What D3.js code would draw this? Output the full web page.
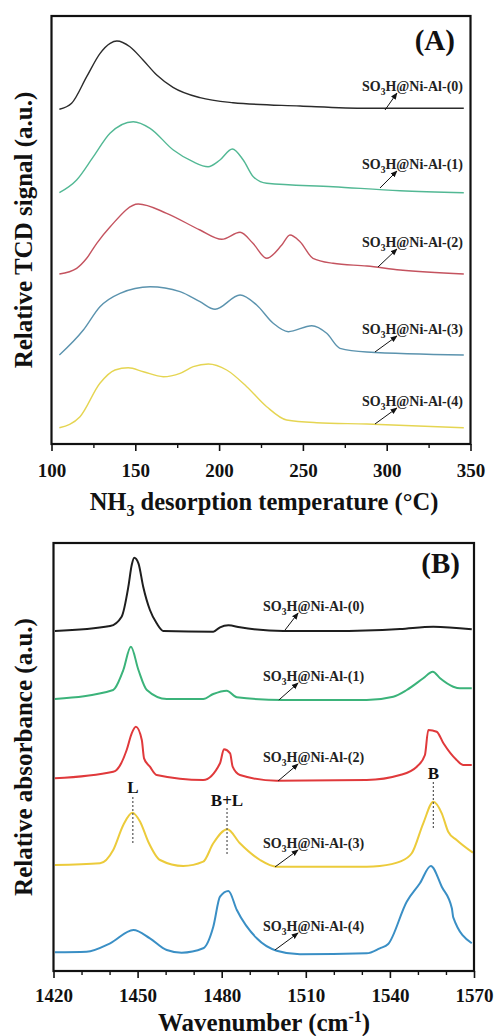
<!DOCTYPE html>
<html><head><meta charset="utf-8">
<script src="https://cdn.jsdelivr.net/npm/d3@7"></script>
<style>body{margin:0;background:#fff}</style>
</head><body><svg id="c" width="495" height="1036"></svg>
<script>
// ---------- data ----------
const sampleNames = ["SO3H@Ni-Al-(0)","SO3H@Ni-Al-(1)","SO3H@Ni-Al-(2)","SO3H@Ni-Al-(3)","SO3H@Ni-Al-(4)"];
const tempTicks = [100,150,200,250,300,350];
const tempMinor = [125,175,225,275,325];
const waveTicks = [1420,1450,1480,1510,1540,1570];
const waveMinor = [1430,1440,1460,1470,1490,1500,1520,1530,1550,1560];

// (A) NH3-TPD, temperature (°C) vs stacked relative signal (a.u.)
const tcdT0 = [104.7,112,121,129,135,139,146.8,154.6,162.8,172.5,188.6,208.3,248.3,288,346];
const tcdS0 = [334.7,340.7,367.3,390.7,400.7,403,397.3,384,369,356.7,346.3,341.3,338,335.7,335.7];
const tcdT1 = [104.7,115,125,134.9,148.8,158.8,172.7,184.4,193.4,200.5,207.9,214.4,220.4,228.4,268,308,346];
const tcdS1 = [251.3,264,287.3,310.7,322.3,315.7,294,282.3,277.3,284,295,284,267.3,260.7,257.3,253.3,251.3];
const tcdT2 = [104.7,115,121,127,134.9,151.8,168.7,188.6,201.6,212.5,220.2,228.4,237.4,242.3,248.3,256,268,288.2,308,346];
const tcdS2 = [170,175.7,185.7,200.7,217,240,230.7,214,204.7,211.7,200.7,185.7,199,209,202.3,185.7,180.7,178,174,170];
const tcdT3 = [104.7,119,128.9,140.9,158.8,176.7,188.6,197.6,212.5,222.4,232.3,241.3,255.3,264.2,272.1,288.1,346];
const tcdS3 = [89,114,137.3,150.7,157.3,152.3,142.3,134.7,149,139,120.7,112.3,118.3,110.7,95.7,92,89];
const tcdT4 = [104.7,117,128.9,137.9,145.8,154.8,166.7,176.7,184.6,193.6,204.5,216.5,228.4,240.3,258.2,288.1,346];
const tcdS4 = [16.3,27.3,60.7,74,76.3,72.3,67.3,70.7,77.3,80,74,57.3,37.3,24,21.3,20,16.3];

// (B) Py-IR, wavenumber (cm-1) vs stacked relative absorbance (a.u.)
const irW0 = [1420.5,1440.2,1444.3,1446.7,1447.9,1448.8,1450.3,1452,1454.4,1456.8,1459.2,1477,1479.4,1482.4,1486.5,1502,1519.7,1543.6,1555.5,1569.2];
const irA0 = [340,345,354.3,384.3,406,413.3,407.7,384.3,361,347.7,340,339.3,343.7,345.7,343.7,340,340,342,344.3,341.7];
const irW1 = [1420.5,1441.3,1441.9,1444.9,1447.6,1450.3,1453.3,1460.4,1473.4,1477,1481.8,1485.4,1502,1531.7,1541.2,1546,1551.9,1555.3,1557.9,1562.6,1565,1569.2];
const irA1 = [272,281,282.7,301,324.3,301,281,272,272,277,280.3,273.7,271,271,274.3,281,292.7,299.3,292.7,284.3,282.7,282.7];
const irW2 = [1420.5,1441.3,1442.5,1446.1,1447.9,1449.4,1451.5,1452.3,1454.4,1456.8,1473.4,1479.4,1480.8,1483,1483.9,1486.5,1499.6,1531.7,1543.6,1549.6,1552.5,1553.7,1556.7,1559.1,1563.8,1566.2,1569.2];
const irA2 = [192.7,199.3,201,221,237.7,244.3,231,212.7,204.3,196,191,207.7,221.7,217.7,204.3,196,190.3,191,196,204.3,216,241,239.3,227.7,211,206,206];
const irW3 = [1420.5,1436.6,1441.3,1444.9,1448.1,1450.9,1453.8,1458,1466.3,1473.4,1477,1482,1486.5,1493.7,1499.6,1531.7,1536.4,1543.6,1547.8,1551.9,1555.5,1558.5,1560.8,1563.8,1569.6];
const irA3 = [106,107.7,121,146,158.3,149.3,129.3,111,105,109.3,127.7,141.7,127.7,111,104.3,104.3,105,109.3,117.7,147.7,169.3,157.7,139.3,131,118.3];
const irW4 = [1420.5,1431.8,1440.2,1448.5,1454.4,1460.4,1465.7,1473.4,1477,1479.4,1482.4,1485.4,1492.5,1499.6,1507.9,1531.7,1536.4,1539.4,1546,1550.7,1554.6,1558.5,1562.1,1562.6,1569.2];
const irA4 = [18.7,19.3,27.7,41,32.7,21,18.3,22.7,44.3,74.3,80,61,32.7,20.3,16.7,17.7,22.7,27,69.3,87.7,105,84.3,62.7,53.7,27.7];

// label / arrow anchors (data units)
const tcdArrowT = [299,296,294.8,293,293];
const tcdArrowS = [334,256,177,92,20];
const tcdLabelS = [353,275,197,110,38];
const tcdLabelT = 345.5;
const irArrowW = [1502.6,1500.4,1500.1,1499,1499];
const irArrowA = [341,271,190,104,21];
const irLabelA = [360,290,209,123,40];
const irLabelW = 1530.8;
const peakNames = ["L","B+L","B"];
const peakW = [1448.3,1481.9,1555.5];
const peakLabelA = [178,165,192];
const peakDashTop = [174,163,189];
const peakDashBot = [128,116,141];

// ---------- drawing ----------
const svg = d3.select("#c");
const FONT = "'Liberation Serif','Times New Roman',serif";
const defs = svg.append("defs");
defs.append("marker").attr("id","ah").attr("viewBox","0 0 10 10").attr("refX",9).attr("refY",5)
  .attr("markerWidth",7).attr("markerHeight",7).attr("orient","auto-start-reverse")
  .append("path").attr("d","M0,1 L10,5 L0,9 Z").attr("fill","#111");

function sampleLabel(g, x, y, name, size) {
  const t = g.append("text").attr("x",x).attr("y",y).attr("text-anchor","end")
    .attr("font-family",FONT).attr("font-weight","bold").attr("font-size",size).attr("fill","#222");
  t.append("tspan").text(name.slice(0,2));
  t.append("tspan").attr("dy",4).attr("font-size",size*0.68).text(name.slice(2,3));
  t.append("tspan").attr("dy",-4).text(name.slice(3));
}

function panel(cfg) {
  const x = d3.scaleLinear().domain(cfg.xDomain).range([cfg.left, cfg.right]);
  const y = d3.scaleLinear().domain(cfg.yDomain).range([cfg.bottom, cfg.top]);
  const g = svg.append("g");
  const line = d3.line().x(d=>x(d[0])).y(d=>y(d[1])).curve(cfg.curve);
  cfg.series.forEach((s,i)=>{
    g.append("path").datum(d3.zip(s[0],s[1])).attr("d",line).attr("fill","none")
      .attr("stroke",cfg.colors[i]).attr("stroke-width",cfg.lw).attr("stroke-linejoin","round");
  });
  // frame
  g.append("rect").attr("x",cfg.left).attr("y",cfg.top).attr("width",cfg.right-cfg.left)
    .attr("height",cfg.bottom-cfg.top).attr("fill","none").attr("stroke","#111").attr("stroke-width",2.2);
  // axis
  const ax = g.append("g").attr("transform",`translate(0,${cfg.bottom})`)
    .call(d3.axisBottom(x).tickValues(cfg.ticks).tickSize(7).tickSizeOuter(0).tickFormat(d3.format("d")));
  ax.select(".domain").remove();
  ax.selectAll(".tick line").attr("stroke","#111").attr("stroke-width",1.6);
  ax.selectAll(".tick text").attr("font-family",FONT).attr("font-weight","bold").attr("font-size",19)
    .attr("fill","#111").attr("y",cfg.tickLabelY).attr("dy",0);
  const axm = g.append("g").attr("transform",`translate(0,${cfg.bottom})`)
    .call(d3.axisBottom(x).tickValues(cfg.minor).tickSize(4).tickFormat(""));
  axm.select(".domain").remove();
  axm.selectAll(".tick line").attr("stroke","#111").attr("stroke-width",1.4);
  // labels & arrows
  cfg.names.forEach((n,i)=>{
    const tipX = x(cfg.labelX) - 66, tipY = y(cfg.labelY[i]) + 2;
    g.append("line").attr("x1",x(cfg.arrowX[i])).attr("y1",y(cfg.arrowY[i]))
      .attr("x2",tipX).attr("y2",tipY).attr("stroke","#111").attr("stroke-width",1)
      .attr("marker-end","url(#ah)");
    sampleLabel(g, x(cfg.labelX), y(cfg.labelY[i]), n, 14);
  });
  g.append("text").attr("x",x(cfg.tagX)).attr("y",y(cfg.tagY)).attr("text-anchor","end")
    .attr("font-family",FONT).attr("font-weight","bold").attr("font-size",29).attr("fill","#111").text(cfg.tag);
  // y title
  g.append("text").attr("transform",`translate(32,${(cfg.top+cfg.bottom)/2}) rotate(-90)`)
    .attr("text-anchor","middle").attr("font-family",FONT).attr("font-weight","bold")
    .attr("font-size",25).attr("fill","#111").text(cfg.yTitle);
  return {x,y,g};
}

const A = panel({
  left:51.5, right:470.5, top:16, bottom:444,
  xDomain:[100,350], yDomain:[0,428], ticks:tempTicks, minor:tempMinor, tickLabelY:33,
  curve:d3.curveMonotoneX, lw:1.4,
  series:[[tcdT0,tcdS0],[tcdT1,tcdS1],[tcdT2,tcdS2],[tcdT3,tcdS3],[tcdT4,tcdS4]],
  colors:["#2b2b2b","#52b894","#c4535f","#5b93ae","#e5d552"],
  names:sampleNames, labelX:tcdLabelT, labelY:tcdLabelS, arrowX:tcdArrowT, arrowY:tcdArrowS,
  tag:"(A)", tagX:340.7, tagY:394, yTitle:"Relative TCD signal (a.u.)"
});
const tA = svg.append("text").attr("x",264).attr("y",510).attr("text-anchor","middle")
  .attr("font-family",FONT).attr("font-weight","bold").attr("font-size",24.5).attr("fill","#111");
tA.append("tspan").text("NH");
tA.append("tspan").attr("dy",6).attr("font-size",16).text("3");
tA.append("tspan").attr("dy",-6).text(" desorption temperature (°C)");

const B = panel({
  left:53.5, right:474, top:543, bottom:971,
  xDomain:[1420,1570], yDomain:[0,428], ticks:waveTicks, minor:waveMinor, tickLabelY:31,
  curve:d3.curveMonotoneX, lw:2,
  series:[[irW0,irA0],[irW1,irA1],[irW2,irA2],[irW3,irA3],[irW4,irA4]],
  colors:["#1e1e1e","#3bb37a","#e0393b","#eccb3b","#3a8fc5"],
  names:sampleNames, labelX:irLabelW, labelY:irLabelA, arrowX:irArrowW, arrowY:irArrowA,
  tag:"(B)", tagX:1565, tagY:398, yTitle:"Relative absorbance (a.u.)"
});
peakNames.forEach((n,i)=>{
  B.g.append("line").attr("x1",B.x(peakW[i])).attr("x2",B.x(peakW[i]))
    .attr("y1",B.y(peakDashTop[i])).attr("y2",B.y(peakDashBot[i]))
    .attr("stroke","#555").attr("stroke-width",1.2).attr("stroke-dasharray","2,2");
  B.g.append("text").attr("x",B.x(peakW[i])).attr("y",B.y(peakLabelA[i])).attr("text-anchor","middle")
    .attr("font-family",FONT).attr("font-weight","bold").attr("font-size",17).attr("fill","#111").text(n);
});
const tB = svg.append("text").attr("x",264).attr("y",1031).attr("text-anchor","middle")
  .attr("font-family",FONT).attr("font-weight","bold").attr("font-size",25).attr("fill","#111");
tB.append("tspan").text("Wavenumber (cm");
tB.append("tspan").attr("dy",-9).attr("font-size",16).text("-1");
tB.append("tspan").attr("dy",9).text(")");
</script></body></html>
